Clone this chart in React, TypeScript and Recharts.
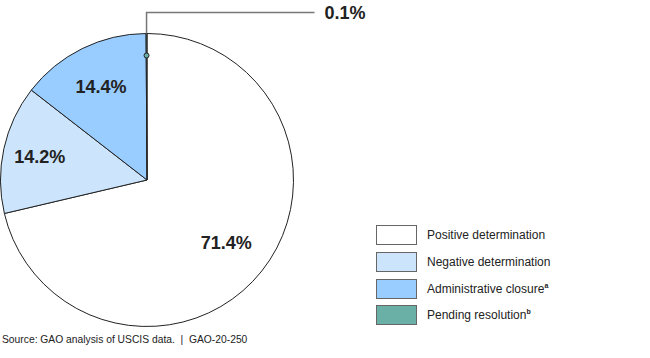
import React from "react";
import { PieChart, Pie, Cell, Legend } from "recharts";

const categories = [
  "Positive determination",
  "Negative determination",
  "Administrative closure",
  "Pending resolution",
];
const footnotes = ["", "", "a", "b"];
const shares = [71.4, 14.2, 14.4, 0.1];
const colors = ["#ffffff", "#cce5fc", "#99ccff", "#6ab0a6"];
const labelRadius = [0.69, 0.75, 0.71, 0.85];

const data = categories.map((name, i) => ({ name, value: shares[i] }));

const RAD = Math.PI / 180;
const font = "'Liberation Sans', Arial, sans-serif";

const renderLabel = (props: any) => {
  const { cx, cy, midAngle, outerRadius, index, value } = props;
  const txt = `${value}%`;
  if (index === 3) {
    const topX = cx + outerRadius * Math.cos(-midAngle * RAD);
    const topY = cy + outerRadius * Math.sin(-midAngle * RAD);
    const dotY = cy - outerRadius * labelRadius[3];
    return (
      <g>
        <polyline
          points={`${topX},${topY} ${topX},${topY - 21} ${topX + 168},${topY - 21}`}
          fill="none"
          stroke="#777"
          strokeWidth={1.5}
        />
        <circle cx={topX} cy={dotY} r={2.5} fill="#6ab0a6" stroke="#222" strokeWidth={1} />
        <text
          x={topX + 178}
          y={topY - 21}
          dominantBaseline="central"
          fontFamily={font}
          fontWeight="bold"
          fontSize={18}
          fill="#222"
        >
          {txt}
        </text>
      </g>
    );
  }
  const r = outerRadius * labelRadius[index];
  const x = cx + r * Math.cos(-midAngle * RAD);
  const y = cy + r * Math.sin(-midAngle * RAD);
  return (
    <text
      x={x}
      y={y}
      textAnchor="middle"
      dominantBaseline="central"
      fontFamily={font}
      fontWeight="bold"
      fontSize={18}
      fill="#222"
    >
      {txt}
    </text>
  );
};

const renderLegend = () => (
  <div style={{ fontFamily: font, fontSize: 12, color: "#222" }}>
    {categories.map((name, i) => (
      <div key={name} style={{ display: "flex", alignItems: "center", height: 26.7 }}>
        <div
          style={{
            width: 39,
            height: 18,
            background: colors[i],
            border: "1px solid #666",
            marginRight: 10,
          }}
        />
        <span>
          {name}
          {footnotes[i] && <sup style={{ fontSize: 7, fontWeight: "bold" }}>{footnotes[i]}</sup>}
        </span>
      </div>
    ))}
  </div>
);

export default function App() {
  return (
    <div style={{ position: "absolute", left: 0, top: 0, width: 650, height: 358, background: "#fff" }}>
      <PieChart width={650} height={358} margin={{ top: 0, right: 0, bottom: 0, left: 0 }}>
        <Pie
          data={data}
          dataKey="value"
          nameKey="name"
          cx={147}
          cy={180}
          outerRadius={146.5}
          startAngle={90}
          endAngle={-270}
          stroke="#222"
          strokeWidth={1}
          label={renderLabel}
          labelLine={false}
          isAnimationActive={false}
        >
          {data.map((d, i) => (
            <Cell key={d.name} fill={colors[i]} />
          ))}
        </Pie>
        <Legend
          content={renderLegend}
          wrapperStyle={{ left: 376, top: 222, width: 260, bottom: "auto" }}
        />
      </PieChart>
      <div
        style={{
          position: "absolute",
          left: 2,
          top: 334,
          fontFamily: font,
          fontSize: 10.3,
          color: "#222",
          whiteSpace: "pre",
        }}
      >
        {"Source: GAO analysis of USCIS data.  |  GAO-20-250"}
      </div>
    </div>
  );
}
